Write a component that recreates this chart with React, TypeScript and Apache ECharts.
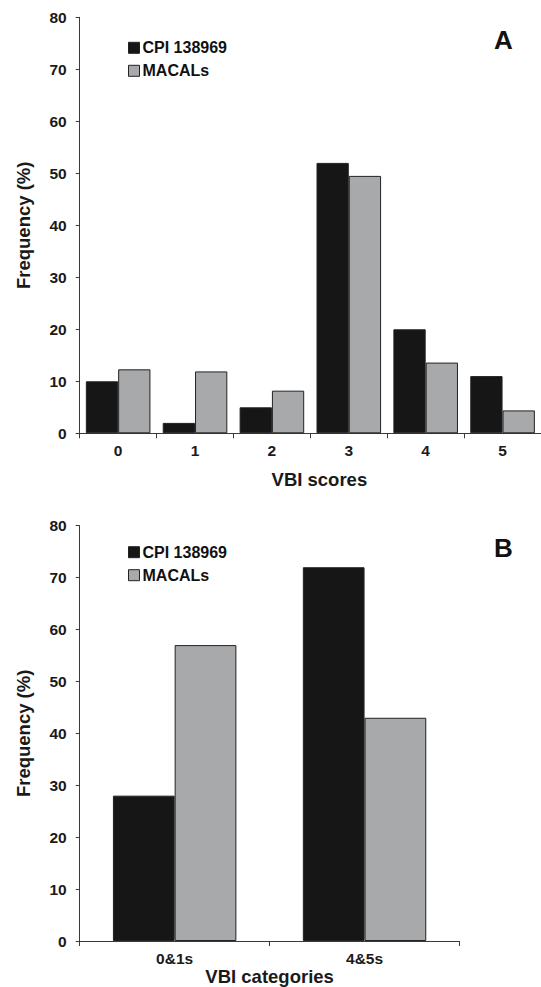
import React, { useEffect, useRef } from "react";
import * as echarts from "echarts";

const scoreCategories = ["0", "1", "2", "3", "4", "5"];
const cpiScores = [10, 2, 5, 52, 20, 11];
const macalsScores = [12.3, 11.9, 8.2, 49.5, 13.6, 4.4];

const groupCategories = ["0&1s", "4&5s"];
const cpiGroups = [28, 72];
const macalsGroups = [57, 43];

const yTicks = { min: 0, max: 80, interval: 10 };
const seriesNames = ["CPI 138969", "MACALs"];
const panelLabels = ["A", "B"];

const FONT = "'Liberation Sans', Arial, Helvetica, sans-serif";
const BLACK = "#161616";
const GRAY = "#a8a9ab";
const AXIS = "#3a3a3a";

export default function App() {
  const ref = useRef<HTMLDivElement>(null);
  useEffect(() => {
    if (!ref.current) return;
    const chart = echarts.init(ref.current, undefined, { renderer: "svg" });

    const xAxisBase = (gridIndex: number, data: string[], name: string, nameGap: number, pad: number[]) => ({
      type: "category",
      gridIndex,
      data,
      name,
      nameLocation: "middle",
      nameGap,
      nameTextStyle: { fontFamily: FONT, fontWeight: "bold", fontSize: 18.5, color: "#1a1a1a", padding: pad },
      axisLine: { show: true, lineStyle: { color: AXIS, width: 1 } },
      axisTick: { show: true, length: 5, lineStyle: { color: AXIS } },
      axisLabel: { fontFamily: FONT, fontWeight: "bold", fontSize: 15.5, color: "#1a1a1a", margin: 9 },
      splitLine: { show: false },
    });
    const yAxisBase = (gridIndex: number) => ({
      type: "value",
      gridIndex,
      min: yTicks.min,
      max: yTicks.max,
      interval: yTicks.interval,
      name: "Frequency (%)",
      nameLocation: "middle",
      nameGap: 47,
      nameTextStyle: { fontFamily: FONT, fontWeight: "bold", fontSize: 18.5, color: "#1a1a1a" },
      axisLine: { show: true, lineStyle: { color: AXIS, width: 1 } },
      axisTick: { show: true, length: 4, lineStyle: { color: AXIS } },
      axisLabel: { fontFamily: FONT, fontWeight: "bold", fontSize: 15.5, color: "#1a1a1a", margin: 13 },
      splitLine: { show: false },
    });
    const legendBase = (top: number) => ({
      orient: "vertical",
      left: 123,
      top,
      icon: "rect",
      itemWidth: 11,
      itemHeight: 11,
      itemGap: 7,
      data: seriesNames,
      selectedMode: false,
      textStyle: { fontFamily: FONT, fontWeight: "bold", fontSize: 16, color: "#111", lineHeight: 16, padding: [0, 0, 0, -2] },
      itemStyle: { borderColor: "#222", borderWidth: 1 },
    });
    const barStyle = (color: string) => ({ color, borderColor: "#222", borderWidth: 1 });

    chart.setOption({
      animation: false,
      backgroundColor: "#ffffff",
      grid: [
        { left: 79.7, top: 17.3, width: 461.8, height: 416, containLabel: false },
        { left: 79.7, top: 525.7, width: 379.8, height: 417.7, containLabel: false },
      ],
      legend: [legendBase(34.8), legendBase(539.2)],
      xAxis: [
        xAxisBase(0, scoreCategories, "VBI scores", 37, [0, 0, 0, 18]),
        xAxisBase(1, groupCategories, "VBI categories", 26, [0, 0, 0, 0]),
      ],
      yAxis: [yAxisBase(0), yAxisBase(1)],
      series: [
        { type: "bar", name: seriesNames[0], xAxisIndex: 0, yAxisIndex: 0, data: cpiScores, barGap: "0%", barCategoryGap: "16%", itemStyle: barStyle(BLACK) },
        { type: "bar", name: seriesNames[1], xAxisIndex: 0, yAxisIndex: 0, data: macalsScores, barGap: "0%", barCategoryGap: "16%", itemStyle: barStyle(GRAY) },
        { type: "bar", name: seriesNames[0], xAxisIndex: 1, yAxisIndex: 1, data: cpiGroups, barGap: "0%", barCategoryGap: "35%", itemStyle: barStyle(BLACK) },
        { type: "bar", name: seriesNames[1], xAxisIndex: 1, yAxisIndex: 1, data: macalsGroups, barGap: "0%", barCategoryGap: "35%", itemStyle: barStyle(GRAY) },
      ],
      graphic: [
        { type: "text", left: 494, top: 27, style: { text: panelLabels[0], fontFamily: FONT, fontWeight: "bold", fontSize: 26, fill: "#111" } },
        { type: "text", left: 494, top: 535, style: { text: panelLabels[1], fontFamily: FONT, fontWeight: "bold", fontSize: 26, fill: "#111" } },
      ],
    });
    return () => chart.dispose();
  }, []);

  return (
    <div
      ref={ref}
      style={{ position: "absolute", left: 0, top: 0, width: 541, height: 987, background: "#fff" }}
    />
  );
}
